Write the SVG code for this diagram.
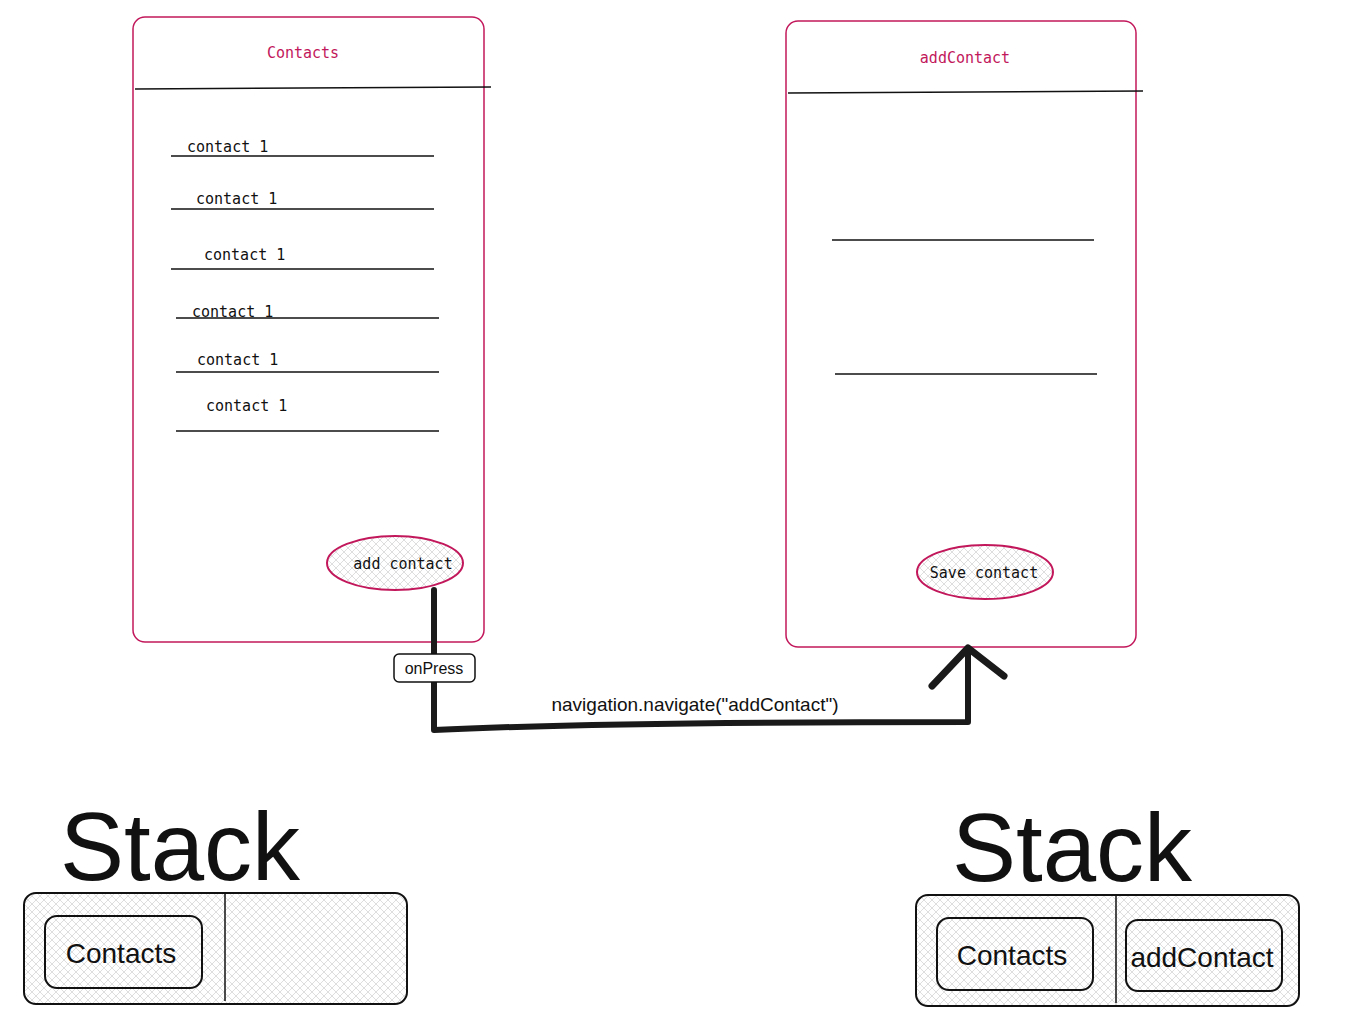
<svg xmlns="http://www.w3.org/2000/svg" width="1358" height="1025" viewBox="0 0 1358 1025">
<defs>
<pattern id="hatch" width="8" height="8" patternUnits="userSpaceOnUse">
<path d="M0 0L8 8M8 0L0 8" stroke="#d0d0d0" stroke-width="0.7"/>
</pattern>
<style>
.screen{fill:#fff;stroke:#c2185b;stroke-width:1.5}
.ttl{font-family:"DejaVu Sans Mono",monospace;font-size:15px;fill:#c2185b;text-anchor:middle}
.mono{font-family:"DejaVu Sans Mono",monospace;font-size:15px;fill:#111}
.ln{stroke:#111;stroke-width:1.5;fill:none}
.btn{fill:url(#hatch);stroke:#c2185b;stroke-width:2}
.sans{font-family:"Liberation Sans",Arial,sans-serif;fill:#111}
.box{fill:url(#hatch);stroke:#111;stroke-width:2}
</style>
</defs>
<rect width="1358" height="1025" fill="#fff"/>
<g id="contacts-screen">
<rect class="screen" x="133" y="17" width="351" height="625" rx="12"/>
<text class="ttl" x="303" y="58">Contacts</text>
<path class="ln" d="M135 89L491 87"/>
<text class="mono" x="187" y="152">contact 1</text><path class="ln" d="M171 156H434"/>
<text class="mono" x="196" y="204">contact 1</text><path class="ln" d="M171 209H434"/>
<text class="mono" x="204" y="260">contact 1</text><path class="ln" d="M171 269H434"/>
<text class="mono" x="192" y="317">contact 1</text><path class="ln" d="M176 318H439"/>
<text class="mono" x="197" y="365">contact 1</text><path class="ln" d="M176 372H439"/>
<text class="mono" x="206" y="411">contact 1</text><path class="ln" d="M176 431H439"/>
</g>
<g id="add-contact-btn">
<ellipse class="btn" cx="395" cy="563" rx="68" ry="27"/>
<text class="mono" x="403" y="569" text-anchor="middle">add contact</text>
</g>
<g id="addcontact-screen">
<rect class="screen" x="786" y="21" width="350" height="626" rx="12"/>
<text class="ttl" x="965" y="63">addContact</text>
<path class="ln" d="M788 93L1143 91"/>
<path class="ln" d="M832 240H1094"/>
<path class="ln" d="M835 374H1097"/>
</g>
<g id="save-contact-btn">
<ellipse class="btn" cx="985" cy="572" rx="68" ry="27"/>
<text class="mono" x="984" y="578" text-anchor="middle">Save contact</text>
</g>
<g id="connectors">
<path d="M434 590V730Q600 722 968 722V650" fill="none" stroke="#1a1a1a" stroke-width="6" stroke-linejoin="round" stroke-linecap="round"/>
<path d="M932 686L968 648L1004 676" fill="none" stroke="#1a1a1a" stroke-width="7" stroke-linejoin="round" stroke-linecap="round"/>
<rect x="394" y="654" width="81" height="28" rx="5" fill="#fff" stroke="#111" stroke-width="1.5"/>
<text class="sans" x="434" y="674" font-size="16" text-anchor="middle">onPress</text>
<text class="sans" x="695" y="711" font-size="19" text-anchor="middle">navigation.navigate("addContact")</text>
</g>
<g id="stack-left">
<text class="sans" x="60" y="880" font-size="96">Stack</text>
<rect class="box" x="24" y="893" width="383" height="111" rx="12"/>
<path class="ln" d="M225 894V1001"/>
<rect x="45" y="916" width="157" height="72" rx="12" fill="none" stroke="#111" stroke-width="2"/>
<text class="sans" x="121" y="963" font-size="28" text-anchor="middle">Contacts</text>
</g>
<g id="stack-right">
<text class="sans" x="952" y="881" font-size="96">Stack</text>
<rect class="box" x="916" y="895" width="383" height="111" rx="12"/>
<path class="ln" d="M1116 896V1003"/>
<rect x="937" y="918" width="156" height="72" rx="12" fill="none" stroke="#111" stroke-width="2"/>
<text class="sans" x="1012" y="965" font-size="28" text-anchor="middle">Contacts</text>
<rect x="1126" y="920" width="156" height="71" rx="12" fill="none" stroke="#111" stroke-width="2"/>
<text class="sans" x="1202" y="967" font-size="28" text-anchor="middle">addContact</text>
</g>
</svg>
